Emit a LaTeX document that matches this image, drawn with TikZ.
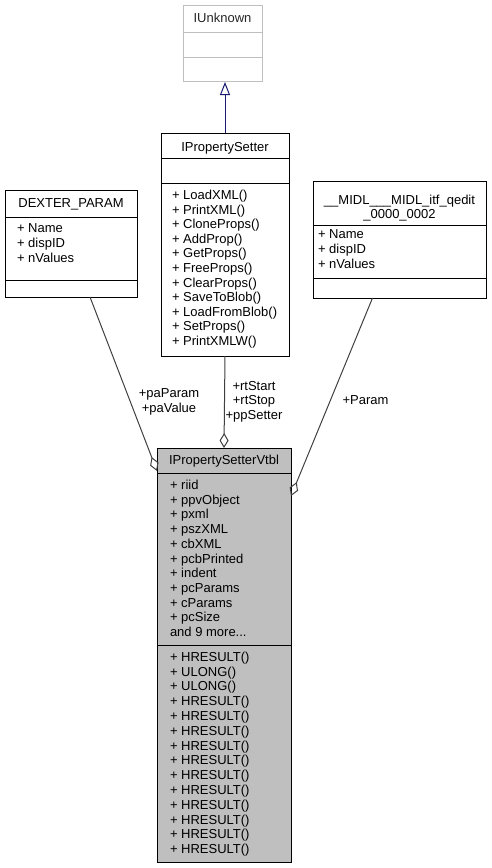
\documentclass[tikz,border=0pt]{standalone}
\usepackage{fontspec}
\setmainfont{Liberation Sans}
\usetikzlibrary{arrows.meta,calc}
\definecolor{edgegray}{HTML}{404040}
\definecolor{inherit}{HTML}{191970}
\definecolor{vtblfill}{HTML}{BFBFBF}
\definecolor{ghostline}{HTML}{BFBFBF}

\begin{document}
\begin{tikzpicture}[x=1pt,y=-1pt,
  every node/.style={font=\fontsize{13}{14.7}\selectfont, inner sep=0pt, outer sep=0pt},
  classbox/.style={draw=black, line width=1pt, anchor=north west, rectangle},
  entry/.style={anchor=base west},
  heading/.style={anchor=base},
  member/.style={draw=edgegray, line width=1pt,
    -{Diamond[open,length=15pt,width=9pt,line width=1pt]}},
  derived/.style={draw=inherit, line width=1pt,
    -{Triangle[open,length=13pt,width=10pt,line width=1pt]}},
  rolelabel/.style={anchor=base, text=black}
]
\path[use as bounding box] (0,0) rectangle (492,868);

% ---- IUnknown (undocumented base) ----
\node[classbox, draw=ghostline, minimum width=79pt, minimum height=76pt] (unk) at (183,5) {};
\draw[ghostline, line width=1pt] (183,32) -- (262,32) (183,57) -- (262,57);
\node[heading, text=black!85] (unkT) at (222.5,22.5) {IUnknown};

% ---- IPropertySetter ----
\node[classbox, fill=white, minimum width=128pt, minimum height=223pt] (setter) at (161,133) {};
\draw[line width=1pt] (161,158) -- (289,158) (161,183) -- (289,183);
\node[heading] (setterT) at (225,151.5) {IPropertySetter};
\foreach \m [count=\i] in {LoadXML(), PrintXML(), CloneProps(), AddProp(), GetProps(),
    FreeProps(), ClearProps(), SaveToBlob(), LoadFromBlob(), SetProps(), PrintXMLW()}
  \node[entry] (sm\i) at (172,{199.5+14.6*(\i-1)}) {+ \m};

% ---- DEXTER_PARAM ----
\node[classbox, minimum width=132pt, minimum height=107pt] (dexter) at (5,190) {};
\draw[line width=1pt] (5,217) -- (137,217) (5,280) -- (137,280);
\node[heading] (dexterT) at (71,207.5) {DEXTER\_PARAM};
\foreach \a [count=\i] in {Name, dispID, nValues}
  \node[entry] (da\i) at (17,{232.5+14.8*(\i-1)}) {+ \a};

% ---- __MIDL___MIDL_itf_qedit_0000_0002 ----
\node[classbox, minimum width=173pt, minimum height=117pt] (midl) at (313,181) {};
\draw[line width=1pt] (313,225) -- (486,225) (313,278) -- (486,278);
\node[heading] (midlT1) at (399.5,204) {\_\_MIDL\_\_\_MIDL\_itf\_qedit};
\node[heading] (midlT2) at (399.5,218.5) {\_0000\_0002};
\foreach \a [count=\i] in {Name, dispID, nValues}
  \node[entry] (ma\i) at (318,{238.5+14.8*(\i-1)}) {+ \a};

% ---- IPropertySetterVtbl ----
\node[classbox, fill=vtblfill, minimum width=134pt, minimum height=414pt] (vtbl) at (157,448) {};
\draw[line width=1pt] (157,473) -- (291,473) (157,645) -- (291,645);
\node[heading] (vtblT) at (224,464.5) {IPropertySetterVtbl};
\foreach \a [count=\i] in {riid, ppvObject, pxml, pszXML, cbXML, pcbPrinted,
    indent, pcParams, cParams, pcSize}
  \node[entry] (va\i) at (170,{489.5+14.7*(\i-1)}) {+ \a};
\node[entry] (vmore) at (170,{489.5+14.7*10}) {and 9 more...};
\foreach \m [count=\i] in {HRESULT(), ULONG(), ULONG(), HRESULT(), HRESULT(),
    HRESULT(), HRESULT(), HRESULT(), HRESULT(), HRESULT(), HRESULT(),
    HRESULT(), HRESULT(), HRESULT()}
  \node[entry] (vm\i) at (170,{661.3+14.8*(\i-1)}) {+ \m};

% ---- connectors ----
\draw[derived] (setter.north) -- ([yshift=-1pt]setter.north |- unk.south);
\draw[member] (setter.south) -- (vtbl.north);
\draw[member] ([xshift=19pt]dexter.south) -- ([yshift=-23pt]vtbl.north west);
\draw[member] ([xshift=-27pt]midl.south) -- ([yshift=-48pt]vtbl.north east);

% ---- role labels ----
\node[rolelabel] (lRt1) at (254,390) {+rtStart};
\node[rolelabel] (lRt2) at (254,404.5) {+rtStop};
\node[rolelabel] (lRt3) at (254,419) {+ppSetter};
\node[rolelabel] (lPa1) at (169,397.5) {+paParam};
\node[rolelabel] (lPa2) at (169,412) {+paValue};
\node[rolelabel] (lPar) at (365.5,404.5) {+Param};
\end{tikzpicture}
\end{document}
